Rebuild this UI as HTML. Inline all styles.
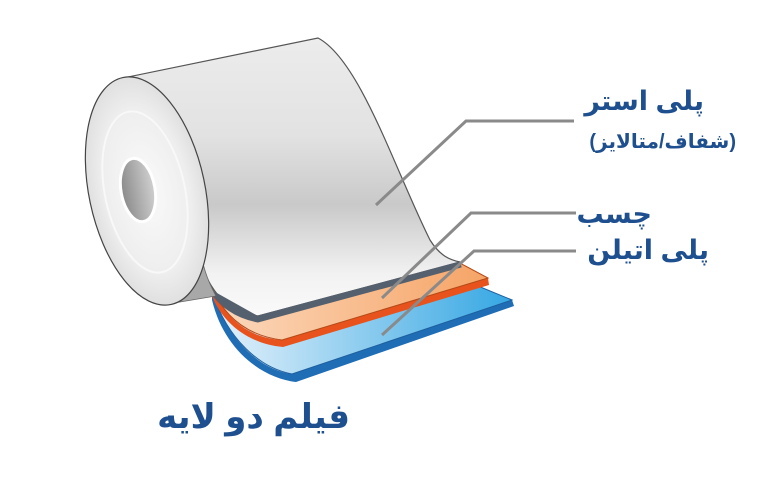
<!DOCTYPE html>
<html><head><meta charset="utf-8"><style>
html,body{margin:0;padding:0;background:#fff;width:774px;height:495px;overflow:hidden}
.t{position:absolute;color:#1e4f8e;font-weight:bold;font-family:"Liberation Sans","DejaVu Sans","Noto Sans CJK SC",sans-serif;direction:rtl;white-space:nowrap;line-height:1}
</style></head><body>
<svg width="774" height="495" style="position:absolute;left:0;top:0">
<defs>
<linearGradient id="body" x1="0" y1="0" x2="0" y2="1">
<stop offset="0" stop-color="#ececec"/><stop offset="0.35" stop-color="#e2e2e2"/><stop offset="0.6" stop-color="#c9c9c9"/><stop offset="0.85" stop-color="#f2f2f2"/><stop offset="1" stop-color="#fafafa"/>
</linearGradient>
<radialGradient id="end" cx="0.5" cy="0.5" r="0.6">
<stop offset="0" stop-color="#fafafa"/><stop offset="0.6" stop-color="#eeeeee"/><stop offset="1" stop-color="#d6d6d6"/>
</radialGradient>
<linearGradient id="hole" x1="0" y1="0" x2="1" y2="0"><stop offset="0" stop-color="#8a8a8a"/><stop offset="1" stop-color="#d0d0d0"/></linearGradient>
<linearGradient id="or" x1="0" y1="0" x2="1" y2="0"><stop offset="0" stop-color="#fbd9bd"/><stop offset="1" stop-color="#f6a466"/></linearGradient>
<linearGradient id="bl" x1="0" y1="0" x2="1" y2="0"><stop offset="0" stop-color="#e6f2fb"/><stop offset="1" stop-color="#35a7e3"/></linearGradient>
</defs>
<!-- blue layer -->
<path d="M212,292 C228,340 260,370 292,374 L512,300 L514,306 L296,382 C262,378 224,350 212,300 Z" fill="#1f6db5"/>
<path d="M212,292 C228,340 260,368 292,374 L512,300 L478,286 Z" fill="url(#bl)" stroke="#1d5f9e" stroke-width="1"/>
<!-- orange layer -->
<path d="M212,288 C226,320 250,338 282,340 L488,278 L489,285 L283,347 C248,344 222,322 212,296 Z" fill="#e8521c"/>
<path d="M212,288 C226,320 250,336 282,340 L488,278 L458,262 Z" fill="url(#or)" stroke="#b44a18" stroke-width="1"/>
<!-- cylinder body + sheet -->
<path d="M123,78 L318,38 C360,60 395,170 430,240 C440,256 450,260 460,262 L258,316 C232,312 214,300 200,262 L150,150 Z" fill="url(#body)" stroke="#555" stroke-width="1.2"/>
<path d="M258,316 L460,262 L461,267 L258,322 C236,318 218,306 208,288" fill="#55606e" stroke="#55606e" stroke-width="1"/>
<!-- shadow wedge under end -->
<path d="M168,304 L216,296 C210,285 204,272 200,250 Z" fill="#a8a8a8" stroke="#666" stroke-width="0.8"/>
<!-- end face -->
<ellipse cx="147" cy="191" rx="58" ry="116" transform="rotate(-12 147 191)" fill="url(#end)" stroke="#444" stroke-width="1.2"/>
<ellipse cx="145" cy="192" rx="40" ry="82" transform="rotate(-12 145 192)" fill="none" stroke="#f8f8f8" stroke-width="2"/>
<ellipse cx="138" cy="190" rx="17" ry="32" transform="rotate(-10 138 190)" fill="url(#hole)" stroke="#fff" stroke-width="3"/>
<!-- leader lines -->
<g stroke="#8a8a8a" stroke-width="3" fill="none">
<polyline points="376,205 466,121 574,121"/>
<polyline points="382,298 471,213 576,213"/>
<polyline points="382,335 474,251 576,251"/>
</g>
</svg>
<div class="t" style="right:70px;top:88px;font-size:27px">پلی استر</div>
<div class="t" style="right:38px;top:132px;font-size:20px">(شفاف/متالایز)</div>
<div class="t" style="right:122px;top:201px;font-size:27px">چسب</div>
<div class="t" style="right:65px;top:237px;font-size:27px">پلی اتیلن</div>
<div class="t" style="right:424px;top:400px;font-size:34px">فیلم دو لایه</div>
</body></html>
